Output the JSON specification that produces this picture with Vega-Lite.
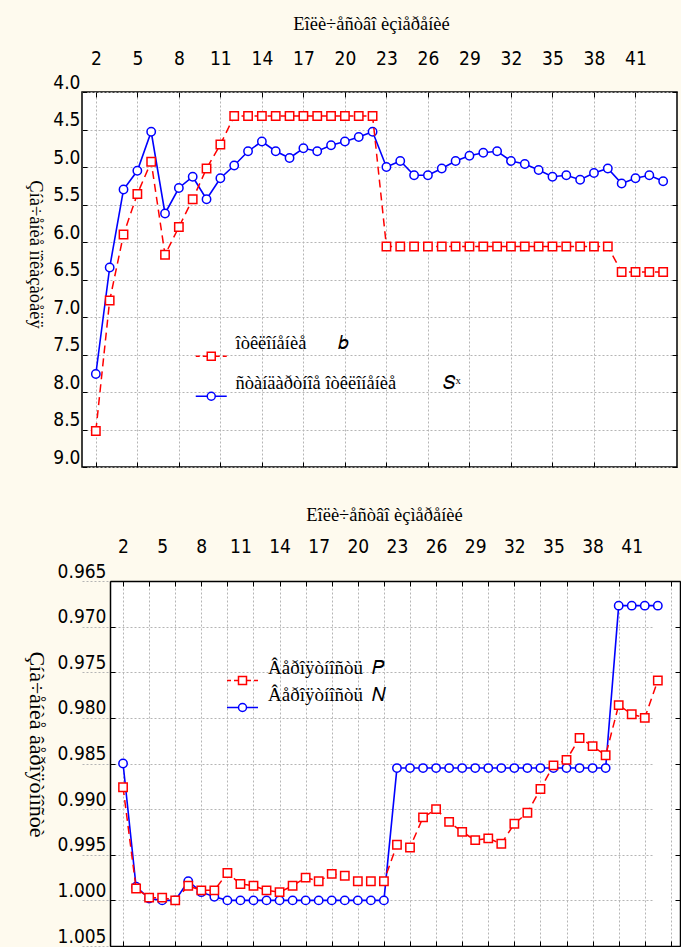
{
  "$schema": "https://vega.github.io/schema/vega-lite/v6.json",
  "background": "#FEFAEE",
  "padding": {"left": 24, "top": 13, "right": 0, "bottom": 0},
  "datasets": {
    "top": [
      {"n":2,"s":"b","v":8.52},{"n":3,"s":"b","v":6.78},{"n":4,"s":"b","v":5.90},{"n":5,"s":"b","v":5.36},{"n":6,"s":"b","v":4.93},{"n":7,"s":"b","v":6.17},{"n":8,"s":"b","v":5.80},{"n":9,"s":"b","v":5.43},{"n":10,"s":"b","v":5.02},{"n":11,"s":"b","v":4.70},
      {"n":12,"s":"b","v":4.32},{"n":13,"s":"b","v":4.32},{"n":14,"s":"b","v":4.32},{"n":15,"s":"b","v":4.32},{"n":16,"s":"b","v":4.32},{"n":17,"s":"b","v":4.32},{"n":18,"s":"b","v":4.32},{"n":19,"s":"b","v":4.32},{"n":20,"s":"b","v":4.32},{"n":21,"s":"b","v":4.32},{"n":22,"s":"b","v":4.32},
      {"n":23,"s":"b","v":6.06},{"n":24,"s":"b","v":6.06},{"n":25,"s":"b","v":6.06},{"n":26,"s":"b","v":6.06},{"n":27,"s":"b","v":6.06},{"n":28,"s":"b","v":6.06},{"n":29,"s":"b","v":6.06},{"n":30,"s":"b","v":6.06},{"n":31,"s":"b","v":6.06},{"n":32,"s":"b","v":6.06},{"n":33,"s":"b","v":6.06},{"n":34,"s":"b","v":6.06},{"n":35,"s":"b","v":6.06},{"n":36,"s":"b","v":6.06},{"n":37,"s":"b","v":6.06},{"n":38,"s":"b","v":6.06},{"n":39,"s":"b","v":6.06},
      {"n":40,"s":"b","v":6.40},{"n":41,"s":"b","v":6.40},{"n":42,"s":"b","v":6.40},{"n":43,"s":"b","v":6.40},
      {"n":2,"s":"Sx","v":7.76},{"n":3,"s":"Sx","v":6.34},{"n":4,"s":"Sx","v":5.30},{"n":5,"s":"Sx","v":5.05},{"n":6,"s":"Sx","v":4.53},{"n":7,"s":"Sx","v":5.62},{"n":8,"s":"Sx","v":5.28},{"n":9,"s":"Sx","v":5.13},{"n":10,"s":"Sx","v":5.43},{"n":11,"s":"Sx","v":5.15},
      {"n":12,"s":"Sx","v":4.98},{"n":13,"s":"Sx","v":4.79},{"n":14,"s":"Sx","v":4.66},{"n":15,"s":"Sx","v":4.79},{"n":16,"s":"Sx","v":4.88},{"n":17,"s":"Sx","v":4.75},{"n":18,"s":"Sx","v":4.79},{"n":19,"s":"Sx","v":4.71},{"n":20,"s":"Sx","v":4.66},{"n":21,"s":"Sx","v":4.60},{"n":22,"s":"Sx","v":4.53},
      {"n":23,"s":"Sx","v":5.00},{"n":24,"s":"Sx","v":4.92},{"n":25,"s":"Sx","v":5.11},{"n":26,"s":"Sx","v":5.11},{"n":27,"s":"Sx","v":5.02},{"n":28,"s":"Sx","v":4.92},{"n":29,"s":"Sx","v":4.85},{"n":30,"s":"Sx","v":4.81},{"n":31,"s":"Sx","v":4.79},{"n":32,"s":"Sx","v":4.92},{"n":33,"s":"Sx","v":4.96},
      {"n":34,"s":"Sx","v":5.04},{"n":35,"s":"Sx","v":5.13},{"n":36,"s":"Sx","v":5.11},{"n":37,"s":"Sx","v":5.17},{"n":38,"s":"Sx","v":5.08},{"n":39,"s":"Sx","v":5.02},{"n":40,"s":"Sx","v":5.22},{"n":41,"s":"Sx","v":5.15},{"n":42,"s":"Sx","v":5.11},{"n":43,"s":"Sx","v":5.19}
    ],
    "bottom": [
      {"n":2,"s":"P","v":0.9876},{"n":3,"s":"P","v":0.9987},{"n":4,"s":"P","v":0.9997},{"n":5,"s":"P","v":0.9997},{"n":6,"s":"P","v":1.0000},{"n":7,"s":"P","v":0.9984},{"n":8,"s":"P","v":0.9989},{"n":9,"s":"P","v":0.9989},{"n":10,"s":"P","v":0.9970},{"n":11,"s":"P","v":0.9982},
      {"n":12,"s":"P","v":0.9984},{"n":13,"s":"P","v":0.9989},{"n":14,"s":"P","v":0.9991},{"n":15,"s":"P","v":0.9984},{"n":16,"s":"P","v":0.9975},{"n":17,"s":"P","v":0.9979},{"n":18,"s":"P","v":0.9971},{"n":19,"s":"P","v":0.9973},{"n":20,"s":"P","v":0.9979},{"n":21,"s":"P","v":0.9979},{"n":22,"s":"P","v":0.9979},
      {"n":23,"s":"P","v":0.9939},{"n":24,"s":"P","v":0.9942},{"n":25,"s":"P","v":0.9909},{"n":26,"s":"P","v":0.9900},{"n":27,"s":"P","v":0.9914},{"n":28,"s":"P","v":0.9925},{"n":29,"s":"P","v":0.9934},{"n":30,"s":"P","v":0.9932},{"n":31,"s":"P","v":0.9938},{"n":32,"s":"P","v":0.9916},{"n":33,"s":"P","v":0.9904},
      {"n":34,"s":"P","v":0.9878},{"n":35,"s":"P","v":0.9852},{"n":36,"s":"P","v":0.9846},{"n":37,"s":"P","v":0.9822},{"n":38,"s":"P","v":0.9831},{"n":39,"s":"P","v":0.9841},{"n":40,"s":"P","v":0.9786},{"n":41,"s":"P","v":0.9796},{"n":42,"s":"P","v":0.9800},{"n":43,"s":"P","v":0.9759},
      {"n":2,"s":"N","v":0.9850},{"n":3,"s":"N","v":0.9985},{"n":4,"s":"N","v":0.9998},{"n":5,"s":"N","v":1.0000},{"n":6,"s":"N","v":1.0000},{"n":7,"s":"N","v":0.9979},{"n":8,"s":"N","v":0.9991},{"n":9,"s":"N","v":0.9996},{"n":10,"s":"N","v":1.0000},{"n":11,"s":"N","v":1.0000},
      {"n":12,"s":"N","v":1.0000},{"n":13,"s":"N","v":1.0000},{"n":14,"s":"N","v":1.0000},{"n":15,"s":"N","v":1.0000},{"n":16,"s":"N","v":1.0000},{"n":17,"s":"N","v":1.0000},{"n":18,"s":"N","v":1.0000},{"n":19,"s":"N","v":1.0000},{"n":20,"s":"N","v":1.0000},{"n":21,"s":"N","v":1.0000},{"n":22,"s":"N","v":1.0000},
      {"n":23,"s":"N","v":0.9855},{"n":24,"s":"N","v":0.9855},{"n":25,"s":"N","v":0.9855},{"n":26,"s":"N","v":0.9855},{"n":27,"s":"N","v":0.9855},{"n":28,"s":"N","v":0.9855},{"n":29,"s":"N","v":0.9855},{"n":30,"s":"N","v":0.9855},{"n":31,"s":"N","v":0.9855},{"n":32,"s":"N","v":0.9855},{"n":33,"s":"N","v":0.9855},
      {"n":34,"s":"N","v":0.9855},{"n":35,"s":"N","v":0.9855},{"n":36,"s":"N","v":0.9855},{"n":37,"s":"N","v":0.9855},{"n":38,"s":"N","v":0.9855},{"n":39,"s":"N","v":0.9855},{"n":40,"s":"N","v":0.9677},{"n":41,"s":"N","v":0.9677},{"n":42,"s":"N","v":0.9677},{"n":43,"s":"N","v":0.9677}
    ]
  },
  "config": {
    "view": {"fill": "white", "stroke": "black", "strokeWidth": 1.5},
    "axis": {
      "labelFont": "Liberation Sans Narrow, DejaVu Sans Condensed, sans-serif",
      "labelFontSize": 19, "labelColor": "black", "labelOverlap": false, "labelFlush": false,
      "titleFont": "Liberation Serif", "titleFontWeight": "normal", "titleFontSize": 18.5, "titleColor": "black",
      "gridColor": "#b5b5b5", "gridDash": [2, 2], "gridWidth": 1,
      "tickColor": "black", "tickWidth": 1, "domain": false, "domainColor": "black", "domainWidth": 1.5
    },
    "legend": {"padding": 0, "labelColor": "black", "labelFont": "Liberation Serif"}
  },
  "spacing": 36,
  "resolve": {"scale": {"stroke": "independent"}},
  "vconcat": [
    {
      "width": 595, "height": 375,
      "data": {"name": "top"},
      "resolve": {"axis": {"x": "independent", "y": "independent"}},
      "layer": [
        {
          "transform": [{"filter": "datum.s === 'Sx'"}],
          "mark": {"type": "line", "strokeWidth": 1.6},
          "encoding": {
            "x": {"field": "n", "type": "quantitative", "scale": {"domain": [1, 44], "nice": false, "zero": false},
                  "axis": {"orient": "bottom", "values": [2,5,8,11,14,17,20,23,26,29,32,35,38,41], "labels": false, "tickSize": -5, "grid": true, "title": null}},
            "y": {"field": "v", "type": "quantitative", "scale": {"domain": [4, 9], "reverse": true, "nice": false, "zero": false},
                  "axis": {"orient": "left", "values": [4,4.5,5,5.5,6,6.5,7,7.5,8,8.5,9], "format": ".1f", "tickSize": -5, "grid": true,
                           "labelBaseline": "bottom", "labelPadding": 7,
                           "title": "Çíà÷åíèå ïîêàçàòåëÿ", "titleFontSize": 18.5, "titleAngle": 90, "titleX": -47, "titleY": 162, "titleBaseline": "middle", "titleAlign": "center"}},
            "stroke": {"field": "s", "type": "nominal", "scale": {"domain": ["b", "Sx"], "range": ["#ff0000", "#0000ff"]},
              "legend": {
                "orient": "none", "legendX": 120, "legendY": 255, "title": null,
                "labelFontSize": 18.5, "symbolSize": 100, "labelOffset": 15, "rowPadding": 10, "labelLimit": 0,
                "labelExpr": "datum.value === 'b' ? 'îòêëîíåíèå\u2003\u2002\u2009𝑏' : 'ñòàíäàðòíîå îòêëîíåíèå\u2003\u2003\u2002𝑆ˣ'",
                "encode": {
                  "symbols": {"update": {
                    "shape": {"signal": "datum.value === 'b' ? 'M-3.1,0H-2.3M-1.7,0H-0.8M0.8,0H1.7M2.3,0H3.1M-0.8,-0.8H0.8V0.8H-0.8Z' : 'M-3.1,0H-0.8M0.8,0H3.1M0.8,0A0.8,0.8,0,1,1,-0.8,0A0.8,0.8,0,1,1,0.8,0Z'"},
                    "fill": {"value": "white"}, "strokeWidth": {"value": 1.5}, "opacity": {"value": 1}
                  }},
                  "labels": {"update": {"dy": {"value": -13}}}
                }
              }}
          }
        },
        {
          "transform": [{"filter": "datum.s === 'Sx'"}],
          "mark": {"type": "point", "shape": "circle", "filled": true, "fill": "white", "size": 70, "strokeWidth": 1.5, "opacity": 1},
          "encoding": {
            "x": {"field": "n", "type": "quantitative", "scale": {"domain": [1, 44], "nice": false, "zero": false},
                  "axis": {"orient": "top", "values": [2,5,8,11,14,17,20,23,26,29,32,35,38,41], "tickSize": -5, "grid": false, "labelPadding": 29,
                           "title": "Eîëè÷åñòâî èçìåðåíèé", "titlePadding": 16, "titleX": 289}},
            "y": {"field": "v", "type": "quantitative", "scale": {"domain": [4, 9], "reverse": true, "nice": false, "zero": false},
                  "axis": {"orient": "right", "values": [4,4.5,5,5.5,6,6.5,7,7.5,8,8.5,9], "labels": false, "tickSize": -5, "grid": false, "title": null}},
            "stroke": {"field": "s", "type": "nominal", "scale": {"domain": ["b", "Sx"], "range": ["#ff0000", "#0000ff"]}}
          }
        },
        {
          "transform": [{"filter": "datum.s === 'b'"}],
          "mark": {"type": "line", "strokeWidth": 1.5, "strokeDash": [8, 5]},
          "encoding": {
            "x": {"field": "n", "type": "quantitative", "scale": {"domain": [1, 44], "nice": false, "zero": false}, "axis": null},
            "y": {"field": "v", "type": "quantitative", "scale": {"domain": [4, 9], "reverse": true, "nice": false, "zero": false}, "axis": null},
            "stroke": {"field": "s", "type": "nominal", "scale": {"domain": ["b", "Sx"], "range": ["#ff0000", "#0000ff"]}}
          }
        },
        {
          "transform": [{"filter": "datum.s === 'b'"}],
          "mark": {"type": "point", "shape": "square", "filled": true, "fill": "white", "size": 70, "strokeWidth": 1.5, "opacity": 1},
          "encoding": {
            "x": {"field": "n", "type": "quantitative", "scale": {"domain": [1, 44], "nice": false, "zero": false}, "axis": null},
            "y": {"field": "v", "type": "quantitative", "scale": {"domain": [4, 9], "reverse": true, "nice": false, "zero": false}, "axis": null},
            "stroke": {"field": "s", "type": "nominal", "scale": {"domain": ["b", "Sx"], "range": ["#ff0000", "#0000ff"]}}
          }
        }
      ]
    },
    {
      "width": 598, "height": 365,
      "view": {"stroke": null, "fill": {"gradient": "linear", "x1": 0, "y1": 0, "x2": 1, "y2": 0,
               "stops": [{"offset": 0, "color": "#FEFAEE"}, {"offset": 0.0468, "color": "#FEFAEE"}, {"offset": 0.0469, "color": "#ffffff"}, {"offset": 1, "color": "#ffffff"}]}},
      "data": {"name": "bottom"},
      "resolve": {"axis": {"x": "independent", "y": "independent"}},
      "layer": [
        {
          "transform": [{"filter": "datum.s === 'N'"}],
          "mark": {"type": "line", "strokeWidth": 1.6},
          "encoding": {
            "x": {"field": "n", "type": "quantitative", "scale": {"domain": [1, 44.7], "range": [28, 598], "nice": false, "zero": false},
                  "axis": {"orient": "bottom", "values": [2,4,6,8,10,12,14,16,18,20,22,24,26,28,30,32,34,36,38,40,42,44], "labels": false, "tickSize": -5, "grid": true, "domain": true, "title": null}},
            "y": {"field": "v", "type": "quantitative", "scale": {"domain": [0.965, 1.005], "reverse": true, "nice": false, "zero": false},
                  "axis": {"orient": "left", "offset": -28, "values": [0.965,0.97,0.975,0.98,0.985,0.99,0.995,1,1.005], "format": ".3f", "tickSize": -5, "grid": false, "domain": true,
                           "labelBaseline": "bottom", "labelPadding": 9,
                           "title": "Çíà÷åíèå âåðîÿòíîñòè", "titleFontSize": 22, "titleAngle": 90, "titleX": -74, "titleY": 163, "titleBaseline": "middle", "titleAlign": "center"}},
            "stroke": {"field": "s", "type": "nominal", "scale": {"domain": ["P", "N"], "range": ["#ff0000", "#0000ff"]},
              "legend": {
                "orient": "none", "legendX": 151, "legendY": 90, "title": null,
                "labelFontSize": 19, "symbolSize": 100, "labelOffset": 16, "rowPadding": -3, "labelLimit": 0,
                "labelExpr": "datum.value === 'P' ? 'Âåðîÿòíîñòü\u2002𝑃' : 'Âåðîÿòíîñòü\u2002𝑁'",
                "encode": {
                  "symbols": {"update": {
                    "shape": {"signal": "datum.value === 'P' ? 'M-3.1,0H-2.3M-1.7,0H-0.8M0.8,0H1.7M2.3,0H3.1M-0.8,-0.8H0.8V0.8H-0.8Z' : 'M-3.1,0H-0.8M0.8,0H3.1M0.8,0A0.8,0.8,0,1,1,-0.8,0A0.8,0.8,0,1,1,0.8,0Z'"},
                    "fill": {"value": "white"}, "strokeWidth": {"value": 1.5}, "opacity": {"value": 1}
                  }},
                  "labels": {"update": {"dy": {"value": -13}}}
                }
              }}
          }
        },
        {
          "transform": [{"filter": "datum.s === 'N'"}],
          "mark": {"type": "point", "shape": "circle", "filled": true, "fill": "white", "size": 70, "strokeWidth": 1.5, "opacity": 1},
          "encoding": {
            "x": {"field": "n", "type": "quantitative", "scale": {"domain": [1, 44.7], "range": [28, 598], "nice": false, "zero": false},
                  "axis": {"orient": "top", "values": [2,4,6,8,10,12,14,16,18,20,22,24,26,28,30,32,34,36,38,40,42,44], "labels": false, "tickSize": -5, "grid": false, "domain": true, "title": null}},
            "y": {"field": "v", "type": "quantitative", "scale": {"domain": [0.965, 1.005], "reverse": true, "nice": false, "zero": false},
                  "axis": {"orient": "right", "values": [0.965,0.97,0.975,0.98,0.985,0.99,0.995,1,1.005], "labels": false, "tickSize": -5, "grid": true, "domain": true, "title": null}},
            "stroke": {"field": "s", "type": "nominal", "scale": {"domain": ["P", "N"], "range": ["#ff0000", "#0000ff"]}}
          }
        },
        {
          "transform": [{"filter": "datum.s === 'P'"}],
          "mark": {"type": "line", "strokeWidth": 1.5, "strokeDash": [8, 5]},
          "encoding": {
            "x": {"field": "n", "type": "quantitative", "scale": {"domain": [1, 44.7], "range": [28, 598], "nice": false, "zero": false},
                  "axis": {"orient": "top", "values": [2,5,8,11,14,17,20,23,26,29,32,35,38,41], "ticks": false, "grid": false, "labelPadding": 25,
                           "title": "Eîëè÷åñòâî èçìåðåíèé", "titlePadding": 13, "titleX": 302}},
            "y": {"field": "v", "type": "quantitative", "scale": {"domain": [0.965, 1.005], "reverse": true, "nice": false, "zero": false}, "axis": null},
            "stroke": {"field": "s", "type": "nominal", "scale": {"domain": ["P", "N"], "range": ["#ff0000", "#0000ff"]}}
          }
        },
        {
          "transform": [{"filter": "datum.s === 'P'"}],
          "mark": {"type": "point", "shape": "square", "filled": true, "fill": "white", "size": 70, "strokeWidth": 1.5, "opacity": 1},
          "encoding": {
            "x": {"field": "n", "type": "quantitative", "scale": {"domain": [1, 44.7], "range": [28, 598], "nice": false, "zero": false}, "axis": null},
            "y": {"field": "v", "type": "quantitative", "scale": {"domain": [0.965, 1.005], "reverse": true, "nice": false, "zero": false}, "axis": null},
            "stroke": {"field": "s", "type": "nominal", "scale": {"domain": ["P", "N"], "range": ["#ff0000", "#0000ff"]}}
          }
        }
      ]
    }
  ]
}
